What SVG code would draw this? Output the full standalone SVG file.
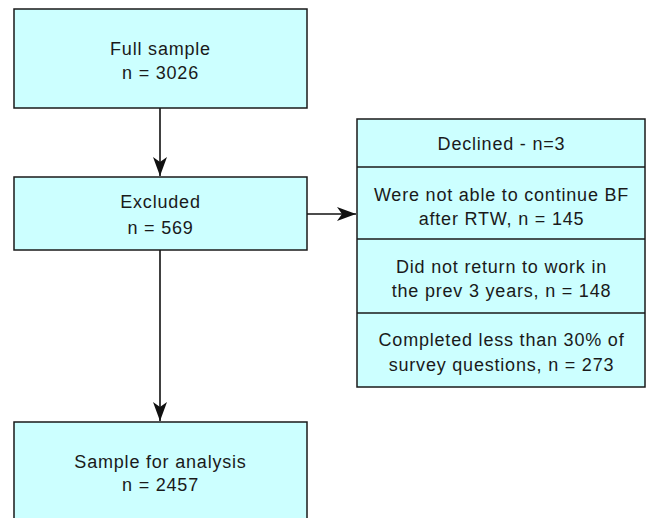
<svg xmlns="http://www.w3.org/2000/svg" width="651" height="518" viewBox="0 0 651 518">
<defs>
<style>
.box{fill:#ccffff;stroke:#1a1a1a;stroke-width:1.5}
.t{font-family:"Liberation Sans",Arial,sans-serif;font-size:18px;letter-spacing:0.8px;fill:#1a1a1a;text-anchor:middle}
.c{fill:none;stroke:#111;stroke-width:1.6}
</style>
<marker id="ah" markerWidth="20" markerHeight="16" viewBox="0 0 20 16" refX="19" refY="8" orient="auto" markerUnits="userSpaceOnUse">
<path d="M0,1 L19,8 L0,15 L5,8 Z" fill="#111"/>
</marker>
</defs>
<rect width="651" height="518" fill="#fff"/>
<g id="connectors">
<line class="c" x1="160" y1="108" x2="160" y2="176" marker-end="url(#ah)"/>
<line class="c" x1="160" y1="250" x2="160" y2="421" marker-end="url(#ah)"/>
<line class="c" x1="307" y1="214" x2="356" y2="214" marker-end="url(#ah)"/>
</g>
<g id="full-sample">
<rect class="box" x="14" y="9" width="293" height="99"/>
<text class="t" x="160.5" y="55">Full sample</text>
<text class="t" x="160.5" y="79">n = 3026</text>
</g>
<g id="excluded">
<rect class="box" x="14" y="177" width="293" height="73"/>
<text class="t" x="160.5" y="208">Excluded</text>
<text class="t" x="160.5" y="234">n = 569</text>
</g>
<g id="sample-analysis">
<rect class="box" x="14" y="422" width="293" height="110"/>
<text class="t" x="160.5" y="468">Sample for analysis</text>
<text class="t" x="160.5" y="491">n = 2457</text>
</g>
<g id="reasons">
<rect class="box" x="357" y="119" width="288" height="268"/>
<line class="box" x1="357" y1="167" x2="645" y2="167"/>
<line class="box" x1="357" y1="239" x2="645" y2="239"/>
<line class="box" x1="357" y1="313" x2="645" y2="313"/>
<text class="t" x="501.5" y="149.5">Declined - n=3</text>
<text class="t" x="501.5" y="201">Were not able to continue BF</text>
<text class="t" x="501.5" y="224.5">after RTW, n = 145</text>
<text class="t" x="501.5" y="273">Did not return to work in</text>
<text class="t" x="501.5" y="297">the prev 3 years, n = 148</text>
<text class="t" x="501.5" y="346">Completed less than 30% of</text>
<text class="t" x="501.5" y="371">survey questions, n = 273</text>
</g>
</svg>
